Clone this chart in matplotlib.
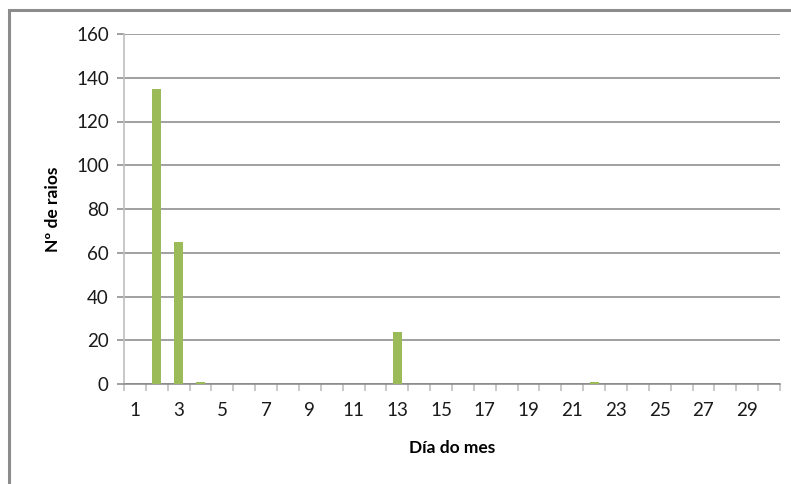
import numpy as np
import matplotlib
matplotlib.use('Agg')
import matplotlib.pyplot as plt
from matplotlib.patches import Rectangle

# days of the month and lightning counts
dias = list(range(1, 31))
raios = [0, 135, 65, 1, 0, 0, 0, 0, 0, 0, 0, 0, 24, 0, 0,
         0, 0, 0, 0, 0, 0, 1, 0, 0, 0, 0, 0, 0, 0, 0]
yticks = [0, 20, 40, 60, 80, 100, 120, 140, 160]

plt.rcParams['font.family'] = ['Lato', 'DejaVu Sans']

W, H = 791, 484
fig = plt.figure(figsize=(W / 100, H / 100), dpi=100)
ax = fig.add_axes([124 / W, 1 - 384 / H, (780 - 124) / W, (384 - 34) / H])

# outer chart frame (right and bottom edges fall outside the picture)
fig.patches.append(Rectangle((9 / W, -0.1), 1.2, 1 - 10 / H + 0.1, transform=fig.transFigure,
                             fill=False, edgecolor='#8c8c8c', linewidth=2.2))

ax.bar(dias, raios, width=0.42, color='#9BBB59', zorder=3)

ax.set_xlim(0.5, 30.5)
ax.set_ylim(0, 160)
ax.set_yticks(yticks)
ax.grid(axis='y', color='#868686', linewidth=1.1, zorder=0)

ax.set_xticks(np.arange(0.5, 31, 1))
ax.set_xticklabels([])
ax.set_xticks([d for d in dias if d % 2 == 1], minor=True)
ax.set_xticklabels([str(d) for d in dias if d % 2 == 1], minor=True)
ax.tick_params(axis='x', which='major', length=5, color='#bfbfbf', width=1.2)
ax.tick_params(axis='x', which='minor', length=0, pad=13, labelsize=13.5, labelcolor='#1a1a1a')
ax.tick_params(axis='y', length=5, color='#868686', width=1.1, labelsize=13.5,
               labelcolor='#1a1a1a', pad=6)

for s in ['top', 'right']:
    ax.spines[s].set_visible(False)
ax.spines['left'].set_color('#bfbfbf')
ax.spines['left'].set_linewidth(1.2)
ax.spines['bottom'].set_color('#868686')
ax.spines['bottom'].set_linewidth(1.1)

ax.set_xlabel('Día do mes', fontsize=12.5, fontweight='bold', labelpad=15)
ax.set_ylabel('Nº de raios', fontsize=12.5, fontweight='bold', labelpad=11)

fig.savefig('out.png', dpi=100, facecolor='white')
